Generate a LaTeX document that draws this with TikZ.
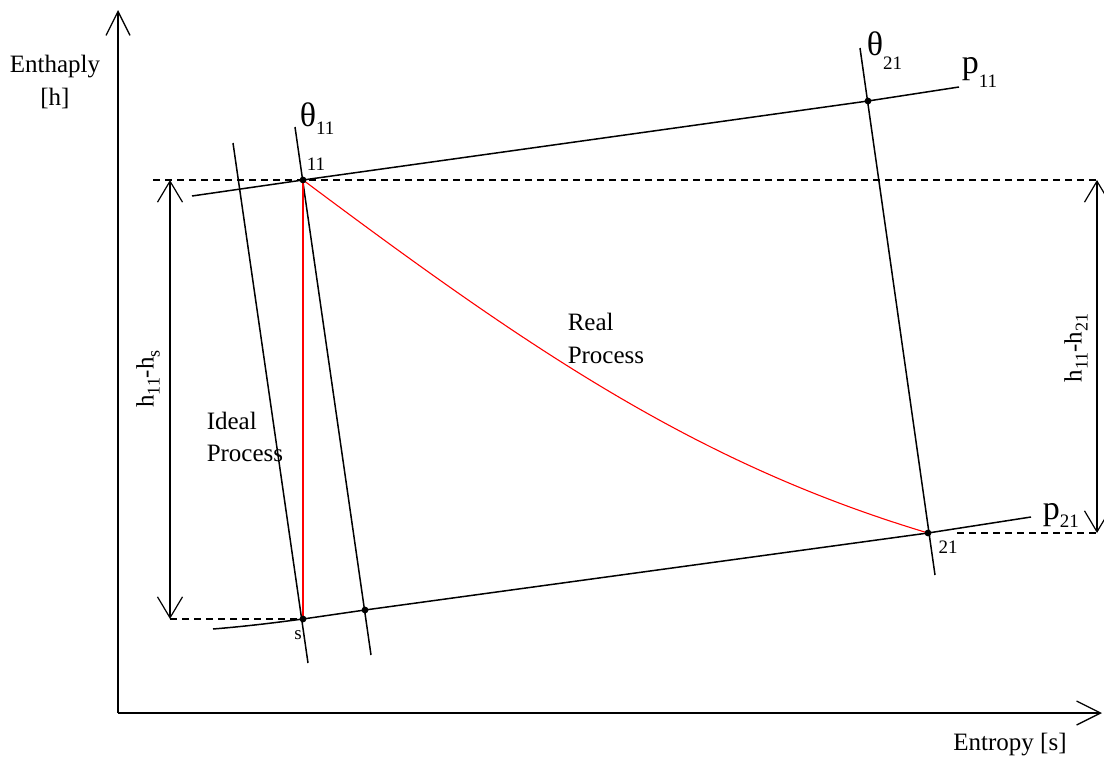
\documentclass[tikz,border=0pt]{standalone}
\usepackage{fontspec}
\setmainfont{Liberation Serif}
\usetikzlibrary{arrows.meta}
\newcommand{\biglbl}[3]{{\fontsize{17pt}{17pt}\selectfont #1}\raisebox{#3}{\fontsize{9.5pt}{9.5pt}\selectfont #2}}
\newcommand{\hsub}[1]{h\raisebox{-3pt}{\fontsize{9pt}{9pt}\selectfont #1}}
\begin{document}
\begin{tikzpicture}[x=0.5pt,y=-0.5pt,line width=0.75pt,
  font=\fontsize{12.5pt}{16pt}\selectfont,
  thinl/.style={line width=0.75pt},
  redl/.style={red,line width=0.55pt},
  dashl/.style={dash pattern=on 3.5pt off 2.5pt,line width=0.6pt},
  dimarrow/.style={line width=0.6pt,{Straight Barb[length=10.5pt,width=12.5pt]}-{Straight Barb[length=10.5pt,width=12.5pt]}},
  axisl/.style={line width=0.65pt,-{Straight Barb[length=12pt,width=12pt]}},
  small/.style={font=\fontsize{9.5pt}{9.5pt}\selectfont,inner sep=0pt}]
\useasboundingbox (0,0) rectangle (1104,760);
% key points
\coordinate (P11) at (303,180);
\coordinate (S) at (303,619);
\coordinate (Q) at (365,610);
\coordinate (P21) at (928,533);
\coordinate (R) at (868,101);
% line ends
\coordinate (O) at (118,713);
\coordinate (Ytop) at (118,10);
\coordinate (Xend) at (1102,713);
\coordinate (pA) at (192,196);
\coordinate (pB) at (959,87);
\coordinate (qA) at (213,629);
\coordinate (qB) at (1031,517);
\coordinate (iA) at (233,143);
\coordinate (iB) at (308,663);
\coordinate (tA) at (295,127);
\coordinate (tB) at (371,655);
\coordinate (uA) at (860,48);
\coordinate (uB) at (935,575);
\coordinate (d1L) at (153,180);
\coordinate (d1R) at (1097,180);
\coordinate (d2L) at (170,619);
\coordinate (d3L) at (957,533);
\coordinate (d3R) at (1097,533);
% axes
\draw[axisl] (O) -- (Ytop);
\draw[axisl] (O) -- (Xend);
% dashed guides
\draw[dashl] (d1L) -- (d1R);
\draw[dashl] (d2L) -- (S);
\draw[dashl] (d3L) -- (d3R);
% dimension arrows
\draw[dimarrow] (170,180) -- (d2L);
\draw[dimarrow] (d1R) -- (d3R);
% isobars
\draw[thinl] (pA) -- (P11) -- (R) -- (pB);
\draw[thinl] (qA) .. controls (250,626) and (280,622) .. (S) -- (Q) -- (P21) -- (qB);
% isotherms / isentrope
\draw[thinl] (iA) -- (iB);
\draw[thinl] (tA) -- (tB);
\draw[thinl] (uA) -- (uB);
% processes
\draw[redl] (P11) -- (S);
\draw[redl] (P11) .. controls (533,352) and (698,464) .. (P21);
% dots
\foreach \p in {P11,S,Q,P21,R} \fill (\p) circle[radius=1.7pt];
% labels
\node[align=center,font=\fontsize{12.5pt}{16.5pt}\selectfont] (ylab) at (55,82) {Enthaply\\{}{[h]}};
\node (xlab) at (1010,745) {Entropy [s]};
\node[align=left,anchor=north west,inner sep=0pt,font=\fontsize{12.5pt}{16pt}\selectfont] (ideal) at (206,411) {Ideal\\Process};
\node[align=left,anchor=north west,inner sep=0pt,font=\fontsize{12.5pt}{16.5pt}\selectfont] (real) at (567,312) {Real\\Process};
\node[anchor=base west,inner sep=0pt] (th11) at (299,126) {\biglbl{θ}{11}{-4.5pt}};
\node[anchor=base west,inner sep=0pt] (th21) at (866,55) {\biglbl{θ}{21}{-7pt}};
\node[anchor=base west,inner sep=0pt] (p11) at (961,73) {\biglbl{p}{11}{-7pt}};
\node[anchor=base west,inner sep=0pt] (p21) at (1042,519) {\biglbl{p}{21}{-4pt}};
\node[small] (l11) at (316,164) {11};
\node[small] (l21) at (948,547) {21};
\node[small] (ls) at (298,635) {s};
\node[rotate=90] (dh1) at (148,379) {\hsub{11}-\hsub{s}};
\node[rotate=90] (dh2) at (1076,348) {\hsub{11}-\hsub{21}};
\end{tikzpicture}
\end{document}
